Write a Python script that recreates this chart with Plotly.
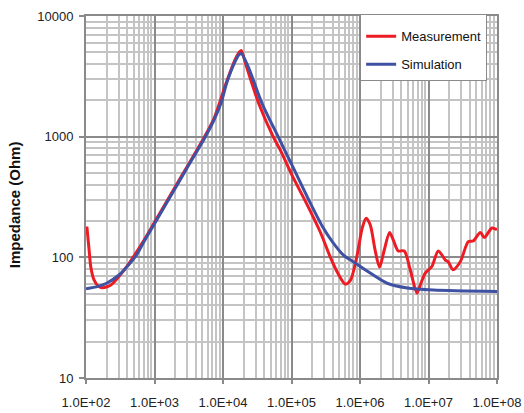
import plotly.graph_objects as go

# Measured impedance (Ohm) vs frequency (Hz)
meas_freq = [103, 111, 118, 131, 150, 171, 203, 240, 300, 400, 728, 1000, 2000,
             5530, 7410, 11350, 15000, 17000, 18400, 22000, 33700, 54000, 68200,
             106000, 164000, 262000, 367000, 480000, 608000, 720000,
             910000, 1.08e6, 1.23e6, 1.41e6, 1.66e6, 1.93e6, 2.26e6, 2.70e6,
             3.05e6, 3.61e6, 4.42e6, 5.41e6, 6.78e6, 7.58e6, 8.98e6, 1.12e7,
             1.39e7, 1.76e7, 1.94e7, 2.28e7, 2.91e7, 3.81e7, 4.51e7, 5.71e7,
             6.53e7, 8.46e7, 1e8]
meas_z = [180, 115, 82, 65, 58, 56, 57, 60, 69, 85, 143, 195, 382,
          1030, 1420, 2880, 4350, 4950, 5180, 3810, 1845, 1000, 780,
          457, 283, 163, 101, 73, 60, 64,
          105, 176, 211, 186, 115, 83, 115, 161,
          140, 113, 113, 79, 50.5, 59, 74, 84,
          113, 95, 92, 79, 92, 135, 137, 161,
          146, 175, 169]

# Simulated impedance (Ohm) vs frequency (Hz)
sim_freq = [100, 150, 200, 300, 400, 550, 728, 1000, 2000, 3000, 5530, 7410,
            9500, 11350, 15000, 17000, 18400, 23300, 37200, 63800, 106000,
            175000, 280000, 406000, 568000, 796000, 1.27e6, 2.49e6, 4.89e6,
            1.17e7, 1e8]
sim_z = [55, 57.5, 61, 71, 84, 105, 140, 190, 372, 552, 1000, 1380,
         1950, 2800, 4190, 4750, 4900, 3810, 1880, 1000, 553,
         306, 182, 132, 105, 92, 77, 61, 55.8,
         53.7, 52.2]

x_ticks = [1e2, 1e3, 1e4, 1e5, 1e6, 1e7, 1e8]
x_tick_text = ["1.0E+02", "1.0E+03", "1.0E+04", "1.0E+05", "1.0E+06", "1.0E+07", "1.0E+08"]
y_ticks = [10, 100, 1000, 10000]
y_tick_text = ["10", "100", "1000", "10000"]

RED = "#ed1c24"
BLUE = "#3f51a3"
MAJOR = "#8a8a8a"
MINOR = "#c4c4c4"
FONT = "Liberation Sans, Arial, sans-serif"

fig = go.Figure()
fig.add_trace(go.Scatter(x=meas_freq, y=meas_z, name="Measurement", mode="lines",
                         line=dict(color=RED, width=3, shape="spline", smoothing=0.8),
                         legendgroup="m"))
fig.add_trace(go.Scatter(x=sim_freq, y=sim_z, name="Simulation", mode="lines",
                         line=dict(color=BLUE, width=3, shape="spline", smoothing=0.8),
                         legendgroup="s"))

axis_common = dict(
    type="log", automargin=False,
    showline=True, linecolor=MAJOR, linewidth=2, mirror=True,
    showgrid=True, gridcolor=MAJOR, gridwidth=2,
    ticks="outside", tickcolor=MAJOR, tickwidth=2,
    tickfont=dict(family=FONT, size=13, color="#222222"),
    zeroline=False,
    minor=dict(dtick="D1", showgrid=True, gridcolor=MINOR, gridwidth=2, ticks=""),
)

fig.update_xaxes(**axis_common, range=[2, 8], tickvals=x_ticks, ticktext=x_tick_text,
                 ticklen=4, ticklabelstandoff=7)
fig.update_yaxes(**axis_common, range=[1, 4], tickvals=y_ticks, ticktext=y_tick_text,
                 ticklen=5, ticklabelstandoff=3)

fig.add_annotation(text="<b>Impedance (Ohm)</b>", textangle=-90,
                   xref="paper", yref="paper", x=-0.172, y=0.478,
                   xanchor="center", yanchor="middle", showarrow=False,
                   font=dict(family=FONT, size=15, color="#111111"))

fig.update_layout(
    width=524, height=413,
    margin=dict(l=86, r=27, t=16, b=35),
    paper_bgcolor="white", plot_bgcolor="white",
    showlegend=True,
    legend=dict(x=0.667, y=1.006, xanchor="left", yanchor="top",
                bgcolor="white", bordercolor=MAJOR, borderwidth=1,
                font=dict(family=FONT, size=13, color="#111111"),
                title=dict(text=" ", font=dict(size=5)),
                itemwidth=30, tracegroupgap=8, traceorder="grouped"),
)

fig.write_html("out.html")
